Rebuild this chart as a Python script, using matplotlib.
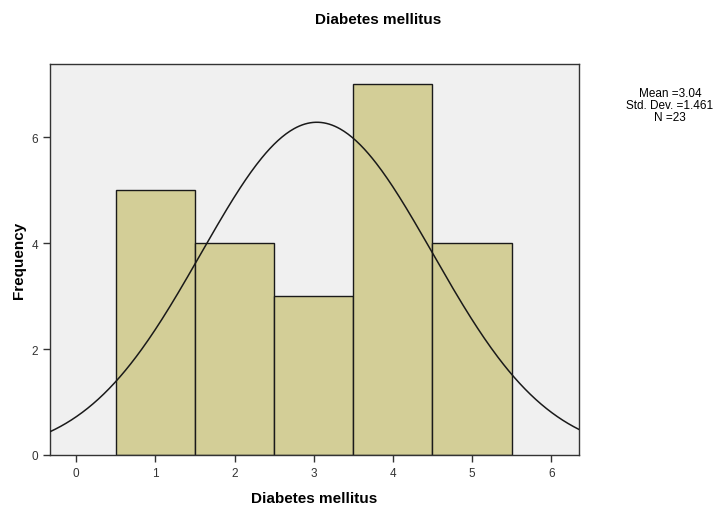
import numpy as np
import matplotlib.pyplot as plt

plt.rcParams['font.family'] = ['Liberation Sans', 'DejaVu Sans']

valores = [1, 2, 3, 4, 5]
frecuencias = [5, 4, 3, 7, 4]
media = 3.04
desv = 1.461
n = 23
titulo = "Diabetes mellitus"

fig = plt.figure(figsize=(7.24, 5.06), dpi=100)
ax = fig.add_axes([50 / 724, 50 / 506, 529 / 724, 391 / 506])
ax.set_facecolor("#f0f0f0")

ax.bar(valores, frecuencias, width=1.0, color="#d3ce97", edgecolor="#1a1a1a", linewidth=1.0, zorder=2)

xs = np.linspace(-0.4, 6.4, 400)
curva = n * 1.0 / (desv * np.sqrt(2 * np.pi)) * np.exp(-0.5 * ((xs - media) / desv) ** 2)
ax.plot(xs, curva, color="#1a1a1a", linewidth=1.1, zorder=3)

ax.set_xlim(-0.33, 6.35)
ax.set_ylim(0, 7.38)
ax.set_xticks(range(0, 7))
ax.set_yticks([0, 2, 4, 6])
ax.tick_params(axis="both", labelsize=8.5, colors="#333333", length=5, width=1)
ax.tick_params(axis="x", pad=4)
for s in ax.spines.values():
    s.set_color("#333333")
    s.set_linewidth(1.0)

ax.set_xlabel(titulo, fontsize=11, fontweight="bold", labelpad=8)
ax.set_ylabel("Frequency", fontsize=11, fontweight="bold", labelpad=4)
fig.text(378 / 724, 1 - 20 / 506, titulo, ha="center", va="center", fontsize=11, fontweight="bold")
fig.text(670 / 724, 1 - 106 / 506, "Mean =3.04\nStd. Dev. =1.461\nN =23",
         ha="center", va="center", fontsize=8.5, linespacing=0.95)

fig.savefig("out.png", dpi=100)
